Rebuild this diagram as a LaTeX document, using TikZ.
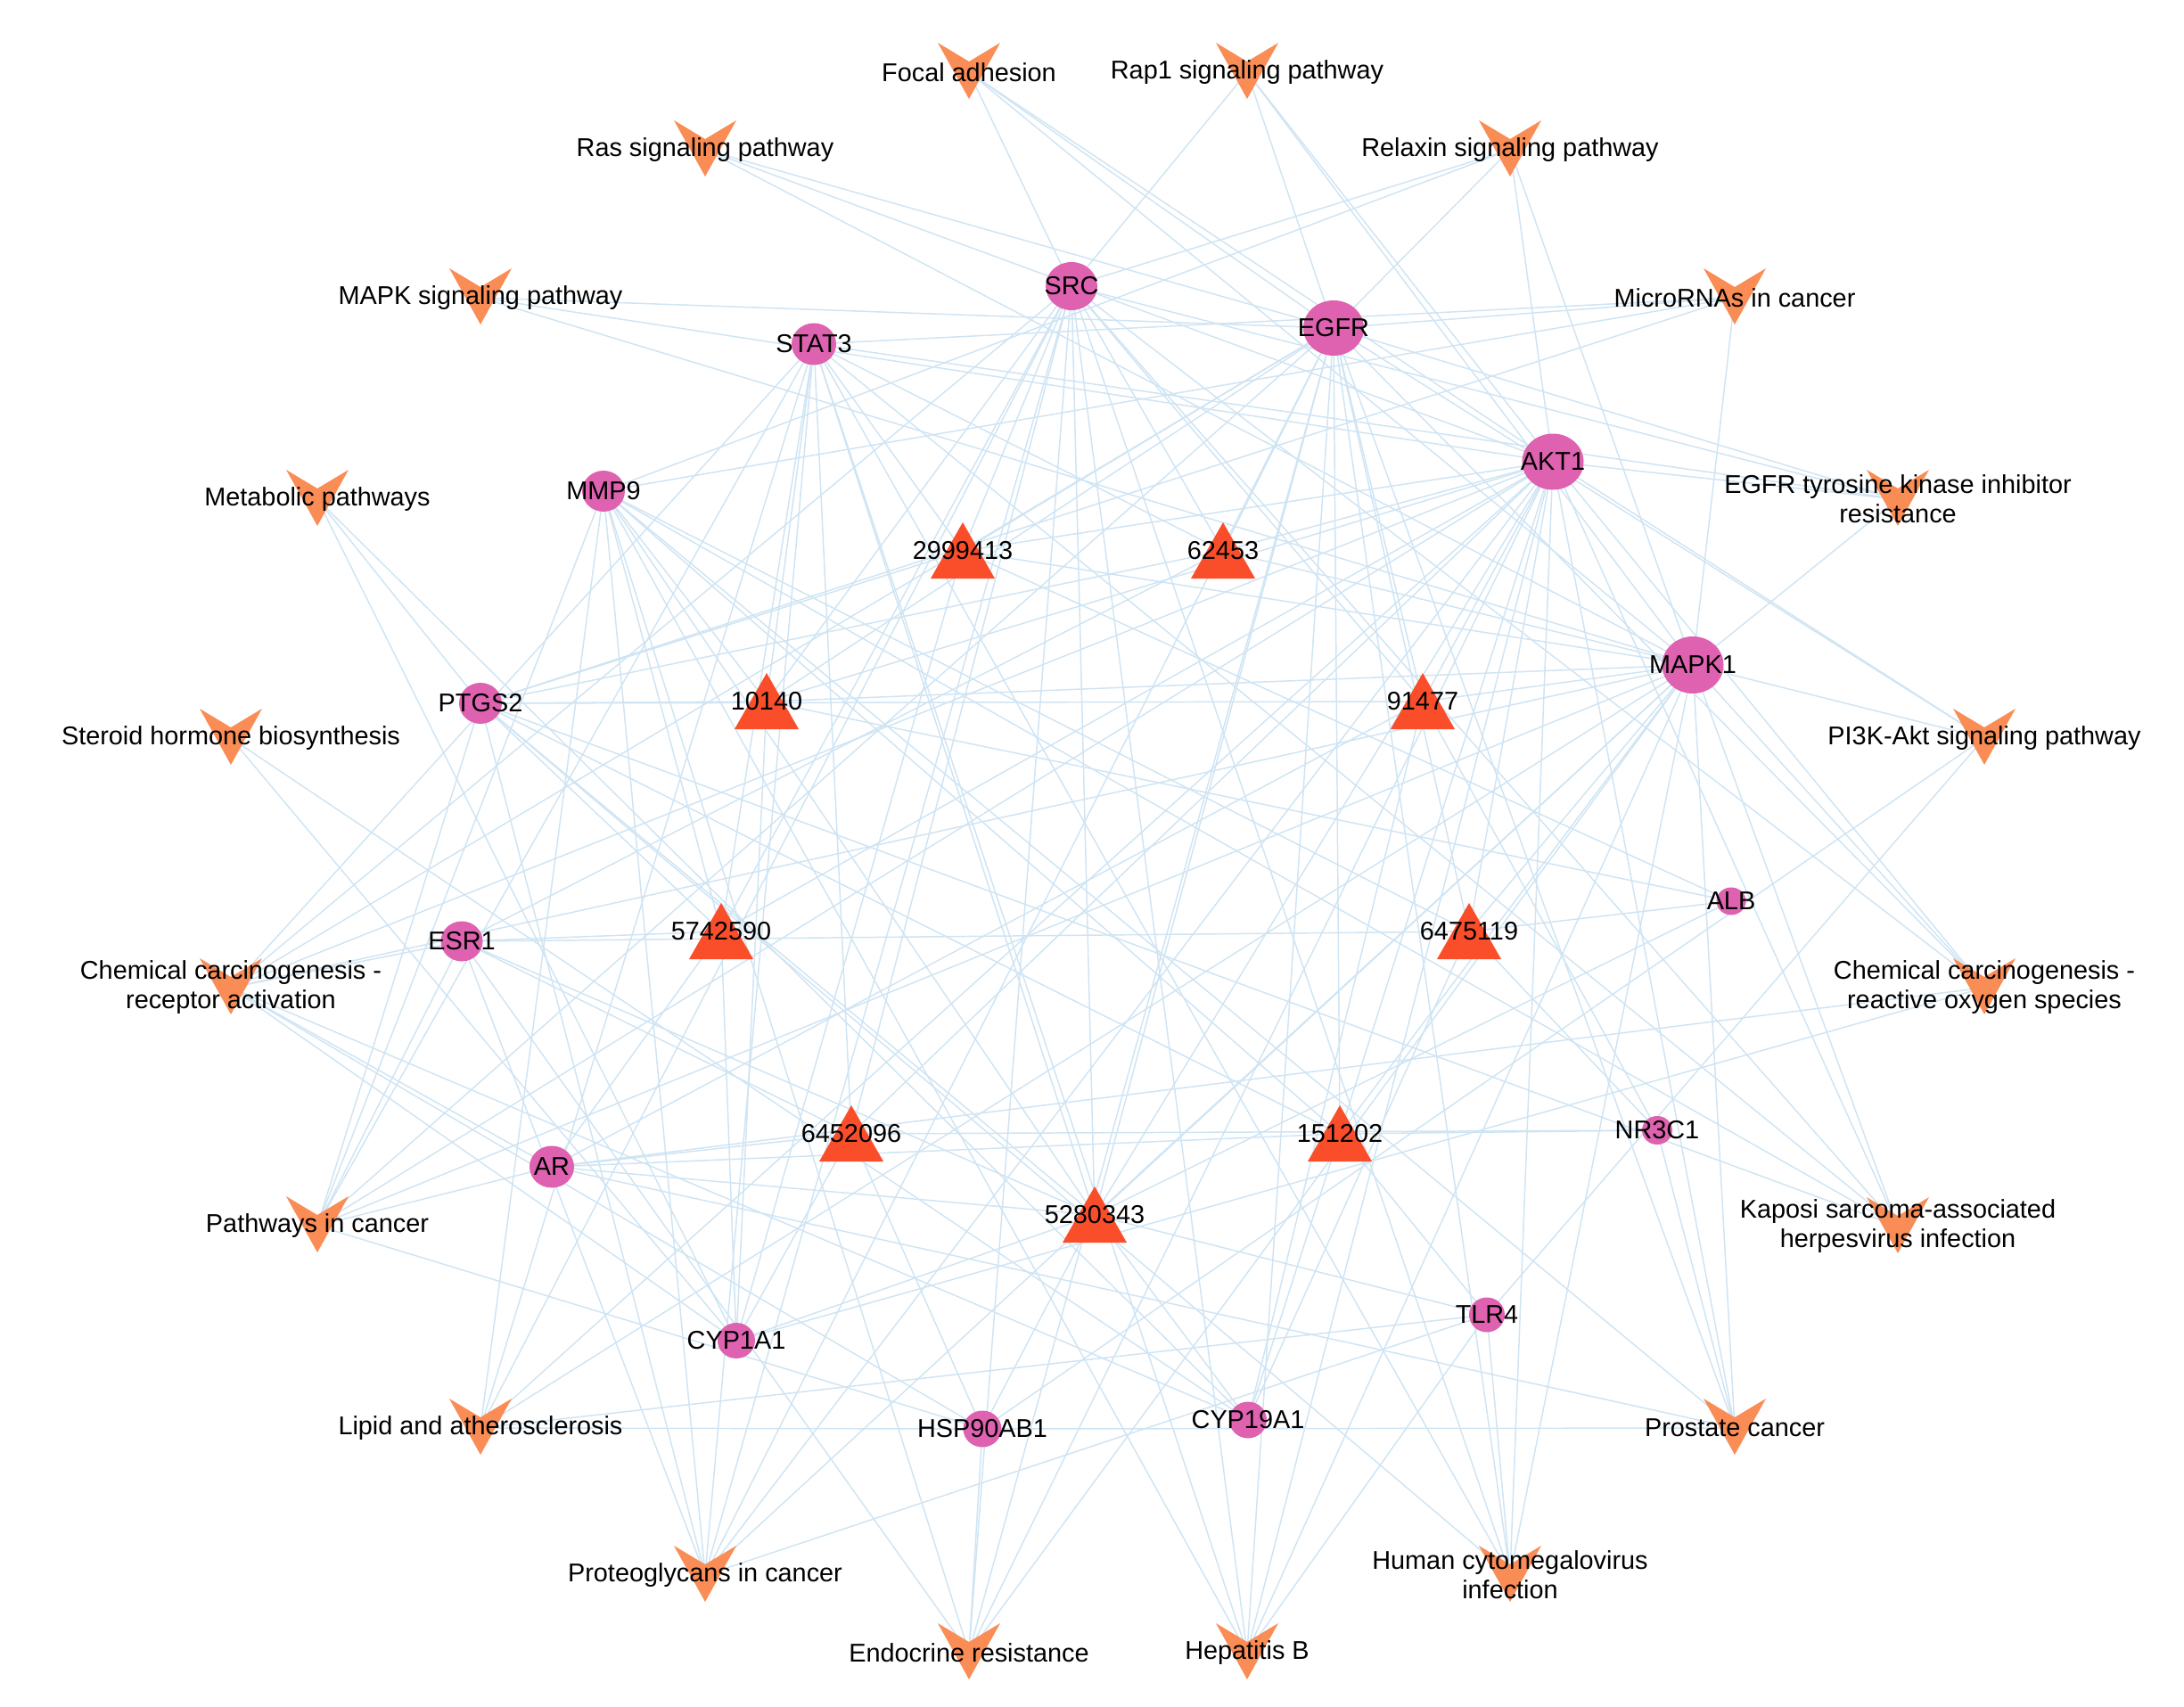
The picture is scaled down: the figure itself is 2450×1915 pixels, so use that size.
\documentclass[tikz,border=0pt]{standalone}
\usepackage{fontspec}
\setmainfont{Liberation Sans}
\usetikzlibrary{shapes.geometric}
\pgfdeclarelayer{edges}
\pgfsetlayers{edges,main}
\definecolor{edgec}{RGB}{207,228,243}
\definecolor{veec}{RGB}{250,140,85}
\definecolor{tric}{RGB}{250,78,42}
\definecolor{tgtc}{RGB}{222,98,176}
\tikzset{
  lbl/.style={font=\fontsize{8.2}{9.4}\selectfont, align=center, inner sep=0pt, text=black},
  tgt/.style={ellipse, fill=tgtc, inner sep=0pt, draw=none},
  vee/.pic={\fill[veec] (-35,-33) -- (0,-12) -- (35,-33) -- (0,30) -- cycle;},
  tri/.pic={\fill[tric] (0,-32) -- (36,31) -- (-36,31) -- cycle;},
  edge/.style={draw=edgec, line width=0.42pt}
}
\begin{document}
\begin{tikzpicture}[x=0.01cm,y=-0.01cm]
\useasboundingbox (0,0) rectangle (2450,1915);

% ---------- pathway nodes (V shapes) ----------
\foreach \n/\x/\y/\t in {
  pFA/1087/81/{Focal adhesion},
  pRap/1399/81/{Rap1 signaling pathway},
  pRas/791/168/{Ras signaling pathway},
  pRlx/1694/168/{Relaxin signaling pathway},
  pMAPK/539/334/{MAPK signaling pathway},
  pMiR/1946/334/{MicroRNAs in cancer},
  pMet/356/560/{Metabolic pathways},
  pTKI/2129/560/{EGFR tyrosine kinase inhibitor\\resistance},
  pSte/259/828/{Steroid hormone biosynthesis},
  pPI3K/2226/828/{PI3K-Akt signaling pathway},
  pCCR/259/1108/{Chemical carcinogenesis -\\receptor activation},
  pROS/2226/1108/{Chemical carcinogenesis -\\reactive oxygen species},
  pPIC/356/1375/{Pathways in cancer},
  pKSHV/2129/1376/{Kaposi sarcoma-associated\\herpesvirus infection},
  pLip/539/1602/{Lipid and atherosclerosis},
  pPro/1946/1602/{Prostate cancer},
  pPG/791/1767/{Proteoglycans in cancer},
  pHCMV/1694/1767/{Human cytomegalovirus\\infection},
  pEndo/1087/1854/{Endocrine resistance},
  pHBV/1399/1854/{Hepatitis B}}{
  \coordinate (\n) at (\x,\y);
  \pic at (\n) {vee};
  \node[lbl] at (\n) {\t};
}

% ---------- compound nodes (triangles) ----------
\foreach \n/\x/\y/\t in {
  c2999413/1080/618/2999413,
  c62453/1372/618/62453,
  c10140/860/787/10140,
  c91477/1596/787/91477,
  c5742590/809/1045/5742590,
  c6475119/1648/1045/6475119,
  c6452096/955/1272/6452096,
  c151202/1503/1272/151202,
  c5280343/1228/1363/5280343}{
  \coordinate (\n) at (\x,\y);
  \pic at (\n) {tri};
  \node[lbl] at (\n) {\t};
}

% ---------- target nodes (ellipses) ----------
\foreach \n/\x/\y/\w/\h/\t in {
  SRC/1202/321/58/54/SRC,
  EGFR/1496/368/68/62/EGFR,
  STAT3/913/386/50/47/STAT3,
  AKT1/1742/518/69/63/AKT1,
  MMP9/677/551/48/46/MMP9,
  MAPK1/1899/746/69/64/MAPK1,
  PTGS2/539/789/48/46/PTGS2,
  ESR1/518/1056/47/45/ESR1,
  ALB/1942/1011/33/31/ALB,
  AR/619/1309/50/47/AR,
  NR3C1/1859/1268/34/32/NR3C1,
  TLR4/1668/1475/40/39/TLR4,
  CYP1A1/826/1504/42/40/CYP1A1,
  HSP/1102/1603/43/41/HSP90AB1,
  CYP19/1400/1593/42/41/CYP19A1}{
  \node[tgt, minimum width=\w*0.01cm, minimum height=\h*0.01cm,
        label={[lbl]center:\t}] (\n) at (\x,\y) {};
}

% ---------- connectors ----------
\begin{pgfonlayer}{edges}
% pathway -- target
\foreach \a/\b in {
  pFA/SRC, pFA/EGFR, pFA/AKT1, pFA/MAPK1,
  pRap/SRC, pRap/EGFR, pRap/AKT1, pRap/MAPK1,
  pRas/EGFR, pRas/AKT1, pRas/MAPK1,
  pRlx/SRC, pRlx/EGFR, pRlx/AKT1, pRlx/MAPK1, pRlx/MMP9,
  pMAPK/EGFR, pMAPK/AKT1, pMAPK/MAPK1,
  pMiR/EGFR, pMiR/STAT3, pMiR/MMP9, pMiR/PTGS2, pMiR/MAPK1,
  pMet/PTGS2, pMet/CYP1A1, pMet/CYP19,
  pTKI/SRC, pTKI/EGFR, pTKI/STAT3, pTKI/AKT1, pTKI/MAPK1,
  pSte/CYP1A1, pSte/CYP19,
  pPI3K/EGFR, pPI3K/AKT1, pPI3K/MAPK1, pPI3K/HSP, pPI3K/TLR4,
  pCCR/SRC, pCCR/EGFR, pCCR/STAT3, pCCR/AKT1, pCCR/MAPK1, pCCR/ESR1,
  pCCR/AR, pCCR/CYP1A1, pCCR/CYP19, pCCR/HSP,
  pROS/SRC, pROS/EGFR, pROS/AKT1, pROS/MAPK1, pROS/CYP1A1, pROS/AR,
  pPIC/STAT3, pPIC/MMP9, pPIC/PTGS2, pPIC/ESR1, pPIC/AR, pPIC/EGFR,
  pPIC/AKT1, pPIC/MAPK1, pPIC/HSP,
  pKSHV/SRC, pKSHV/STAT3, pKSHV/AKT1, pKSHV/MAPK1, pKSHV/PTGS2, pKSHV/MMP9,
  pLip/SRC, pLip/STAT3, pLip/MMP9, pLip/AKT1, pLip/MAPK1, pLip/TLR4, pLip/HSP,
  pPro/AR, pPro/EGFR, pPro/AKT1, pPro/MAPK1, pPro/HSP, pPro/MMP9, pPro/NR3C1,
  pPG/SRC, pPG/EGFR, pPG/STAT3, pPG/AKT1, pPG/MAPK1, pPG/MMP9, pPG/ESR1,
  pPG/TLR4, pPG/PTGS2,
  pHCMV/SRC, pHCMV/EGFR, pHCMV/STAT3, pHCMV/AKT1, pHCMV/MAPK1, pHCMV/PTGS2,
  pHCMV/TLR4,
  pEndo/SRC, pEndo/EGFR, pEndo/AKT1, pEndo/MAPK1, pEndo/ESR1, pEndo/MMP9,
  pEndo/HSP,
  pHBV/SRC, pHBV/STAT3, pHBV/AKT1, pHBV/MAPK1, pHBV/MMP9, pHBV/TLR4, pHBV/EGFR}{
  \draw[edge] (\a) -- (\b.center);
}
% compound -- target
\foreach \a/\b in {
  c2999413/STAT3, c2999413/SRC, c2999413/EGFR, c2999413/PTGS2,
  c2999413/AKT1, c2999413/MAPK1, c2999413/CYP1A1, c2999413/ALB,
  c62453/SRC, c62453/EGFR, c62453/STAT3, c62453/AKT1, c62453/MAPK1,
  c62453/ESR1, c62453/PTGS2,
  c10140/STAT3, c10140/SRC, c10140/EGFR, c10140/MMP9, c10140/AKT1,
  c10140/PTGS2, c10140/CYP1A1, c10140/MAPK1, c10140/ALB,
  c91477/EGFR, c91477/AKT1, c91477/MAPK1, c91477/SRC, c91477/NR3C1,
  c91477/CYP19, c91477/AR, c91477/PTGS2,
  c5742590/ESR1, c5742590/PTGS2, c5742590/MMP9, c5742590/SRC, c5742590/AR,
  c5742590/CYP1A1, c5742590/AKT1, c5742590/STAT3,
  c6475119/EGFR, c6475119/AKT1, c6475119/MAPK1, c6475119/NR3C1,
  c6475119/CYP19, c6475119/ESR1, c6475119/ALB, c6475119/MMP9,
  c6452096/AR, c6452096/ESR1, c6452096/SRC, c6452096/STAT3,
  c6452096/CYP1A1, c6452096/HSP, c6452096/NR3C1, c6452096/AKT1,
  c151202/AR, c151202/NR3C1, c151202/CYP19, c151202/EGFR, c151202/AKT1,
  c151202/MAPK1, c151202/TLR4, c151202/PTGS2, c151202/MMP9,
  c5280343/SRC, c5280343/EGFR, c5280343/STAT3, c5280343/AKT1,
  c5280343/MAPK1, c5280343/MMP9, c5280343/PTGS2, c5280343/ESR1,
  c5280343/AR, c5280343/CYP1A1, c5280343/CYP19, c5280343/HSP,
  c5280343/TLR4, c5280343/ALB}{
  \draw[edge] (\a) -- (\b.center);
}
\end{pgfonlayer}
\end{tikzpicture}
\end{document}
